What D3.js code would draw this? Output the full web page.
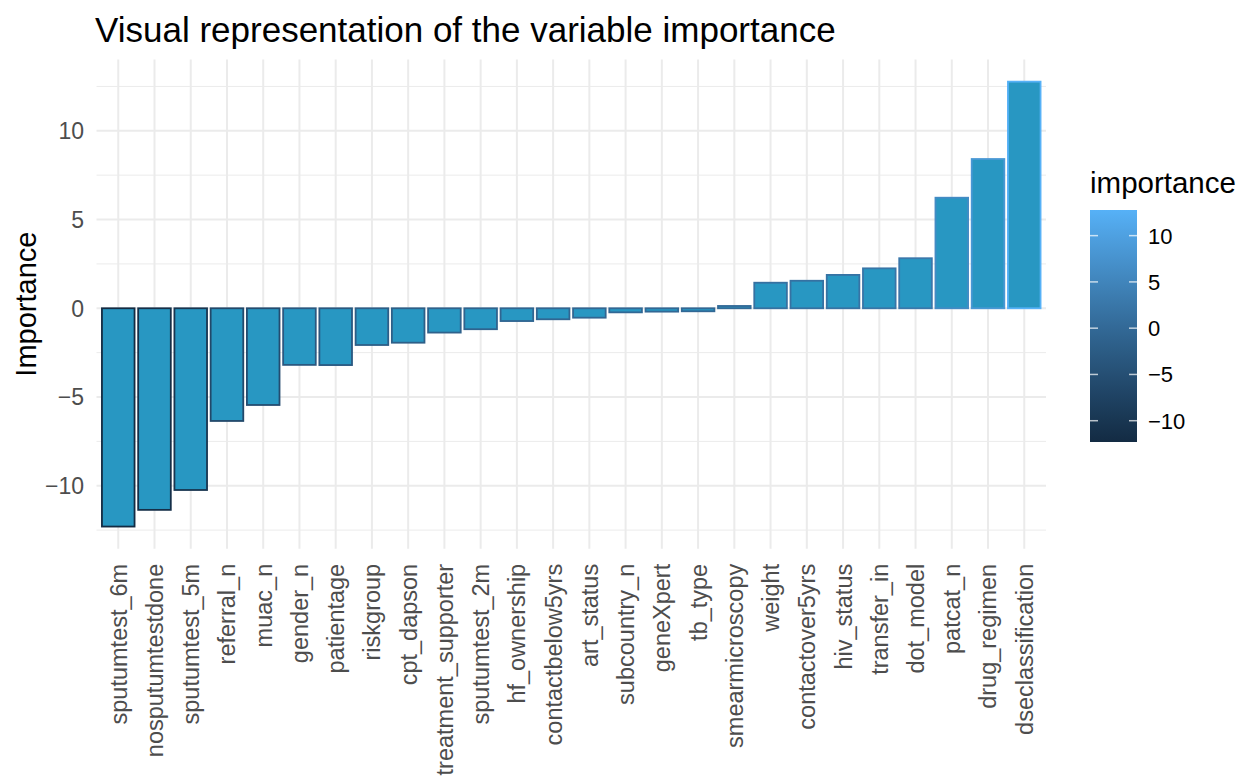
<!DOCTYPE html>
<html><head><meta charset="utf-8">
<script src="https://cdn.jsdelivr.net/npm/d3@7"></script>
<style>body{margin:0;background:#fff}svg{display:block}text{font-family:"Liberation Sans",Arial,sans-serif}</style>
</head><body>
<svg id="c" width="1257" height="779"></svg>
<script>
const categories = ["sputumtest_6m","nosputumtestdone","sputumtest_5m","referral_n","muac_n","gender_n","patientage","riskgroup","cpt_dapson","treatment_supporter","sputumtest_2m","hf_ownership","contactbelow5yrs","art_status","subcountry_n","geneXpert","tb_type","smearmicroscopy","weight","contactover5yrs","hiv_status","transfer_in","dot_model","patcat_n","drug_regimen","dseclassification"];
const importance = [-12.3,-11.36,-10.24,-6.35,-5.45,-3.19,-3.2,-2.07,-1.94,-1.37,-1.18,-0.72,-0.62,-0.53,-0.23,-0.19,-0.17,0.13,1.44,1.55,1.88,2.25,2.82,6.23,8.41,12.77];
const yTicks = [-10,-5,0,5,10];
const yMinor = [-12.5,-7.5,-2.5,2.5,7.5,12.5];
const legendTicks = [-10,-5,0,5,10];
const title = "Visual representation of the variable importance";
const yTitle = "Importance";
const legendTitle = "importance";

const svg = d3.select("#c");
const P = {l:96.5, r:1046, t:59.4, b:548.8};
const data = categories.map((c,i)=>({c, v:importance[i]}));
const lo = d3.min(importance), hi = d3.max(importance), pad=(hi-lo)*0.05;
const x = d3.scaleBand().domain(categories).range([P.l,P.r]).paddingInner(0.1).paddingOuter(0.15);
const y = d3.scaleLinear().domain([lo-pad, hi+pad]).range([P.b,P.t]);
const col = d3.scaleLinear().domain([lo,hi]).range(["#132B43","#56B1F7"]).interpolate(d3.interpolateLab);
const grid = "#ebebeb";

// grid
const g = svg.append("g");
g.selectAll(".mn").data(yMinor.filter(v=>y(v)>=P.t&&y(v)<=P.b)).join("line")
 .attr("x1",P.l).attr("x2",P.r).attr("y1",d=>y(d)).attr("y2",d=>y(d)).attr("stroke",grid).attr("stroke-width",1);
g.selectAll(".mj").data(yTicks).join("line")
 .attr("x1",P.l).attr("x2",P.r).attr("y1",d=>y(d)).attr("y2",d=>y(d)).attr("stroke",grid).attr("stroke-width",2);
g.selectAll(".vx").data(categories).join("line")
 .attr("y1",P.t).attr("y2",P.b).attr("x1",d=>x(d)+x.bandwidth()/2).attr("x2",d=>x(d)+x.bandwidth()/2).attr("stroke",grid).attr("stroke-width",2);

// bars
svg.append("g").selectAll("rect").data(data).join("rect")
 .attr("x",d=>x(d.c)).attr("width",x.bandwidth())
 .attr("y",d=>y(Math.max(0,d.v))).attr("height",d=>Math.abs(y(d.v)-y(0)))
 .attr("fill","#2897c2").attr("stroke",d=>col(d.v)).attr("stroke-width",1.8);

// y axis labels
svg.append("g").selectAll("text").data(yTicks).join("text")
 .attr("x",84).attr("y",d=>y(d)).attr("dy","0.36em").attr("text-anchor","end")
 .attr("font-size",23).attr("fill","#4d4d4d").text(d=>d<0?"\u2212"+Math.abs(d):d);

// x labels
svg.append("g").selectAll("text").data(categories).join("text")
 .attr("transform",d=>`translate(${x(d)+x.bandwidth()/2},${P.b+15}) rotate(-90)`)
 .attr("dy","0.36em").attr("text-anchor","end").attr("font-size",23.5).attr("fill","#4d4d4d").text(d=>d);

// titles
svg.append("text").attr("x",95).attr("y",42).attr("font-size",35).attr("fill","#000").text(title);
svg.append("text").attr("transform",`translate(36,${(P.t+P.b)/2}) rotate(-90)`).attr("text-anchor","middle")
 .attr("font-size",29).attr("fill","#000").text(yTitle);

// legend
const L = {x:1090, w:47, t:210, b:442};
const defs = svg.append("defs");
const gr = defs.append("linearGradient").attr("id","lg").attr("x1",0).attr("x2",0).attr("y1",1).attr("y2",0);
d3.range(0,1.001,0.1).forEach(t=>gr.append("stop").attr("offset",t).attr("stop-color",col(lo+t*(hi-lo))));
svg.append("text").attr("x",L.x).attr("y",193).attr("font-size",29.5).attr("fill","#000").text(legendTitle);
svg.append("rect").attr("x",L.x).attr("y",L.t).attr("width",L.w).attr("height",L.b-L.t).attr("fill","url(#lg)");
const ly = d3.scaleLinear().domain([lo,hi]).range([L.b,L.t]);
const lt = svg.append("g").selectAll("g").data(legendTicks).join("g");
lt.append("line").attr("x1",L.x).attr("x2",L.x+8).attr("y1",d=>ly(d)).attr("y2",d=>ly(d)).attr("stroke","#fff").attr("stroke-opacity",0.7).attr("stroke-width",1.5);
lt.append("line").attr("x1",L.x+L.w-8).attr("x2",L.x+L.w).attr("y1",d=>ly(d)).attr("y2",d=>ly(d)).attr("stroke","#fff").attr("stroke-opacity",0.7).attr("stroke-width",1.5);
lt.append("text").attr("x",L.x+L.w+11).attr("y",d=>ly(d)).attr("dy","0.36em").attr("font-size",22).attr("fill","#000")
 .text(d=>d<0?"\u2212"+Math.abs(d):d);
</script>
</body></html>
